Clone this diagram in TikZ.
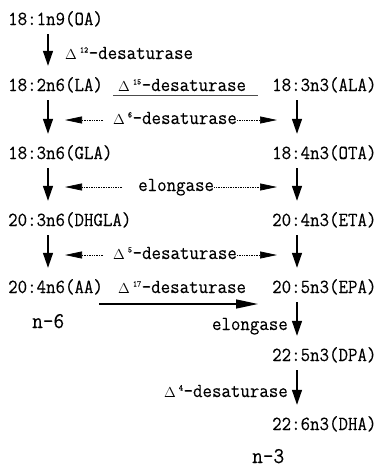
\documentclass[tikz,border=0pt]{standalone}
\usepackage{fontspec}
\newfontfamily\reffont[FakeStretch=0.92,FakeBold=0.2]{Latin Modern Mono}
\usetikzlibrary{arrows.meta,calc}
\newcommand{\enzd}[1]{{\fontsize{15}{15}\selectfont$\Delta$}\kern3pt\raisebox{6.5pt}{\fontsize{8.5}{8.5}\selectfont #1}\kern0.5pt\textendash desaturase}
\begin{document}
\begin{tikzpicture}[x=1pt,y=-1pt,
  lbl/.style={inner sep=0pt, anchor=base west, font=\reffont\fontsize{20}{22}\selectfont, text height=12pt, text depth=4pt},
  big/.style={lbl, font=\reffont\fontsize{22.5}{24}\selectfont},
  varr/.style={line width=1.4pt, -{Triangle[length=15pt,width=10pt]}, shorten <=5pt, shorten >=13pt},
  harr/.style={line width=1.4pt, -{Triangle[length=22pt,width=9pt]}},
  dotarr/.style={densely dotted, line width=0.7pt, -{Triangle[length=17pt,width=7pt]}},
  uline/.style={line width=1.3pt, draw=black!70}]
\useasboundingbox (0,0) rectangle (375,467);
\node[lbl] (oa) at (8,25) {18:1n9(OA)};
\node[lbl] (d12) at (65,59) {\enzd{12}};
\node[lbl] (la) at (8,91) {18:2n6(LA)};
\node[lbl] (d15) at (118,91) {\enzd{15}};
\node[lbl] (ala) at (272,91) {18:3n3(ALA)};
\node[lbl] (d6) at (113,124) {\enzd{6}};
\node[lbl] (gla) at (8,159) {18:3n6(GLA)};
\node[lbl] (ota) at (272,159) {18:4n3(OTA)};
\node[lbl] (elo1) at (138,191) {elongase};
\node[lbl] (dhgla) at (8,226) {20:3n6(DHGLA)};
\node[lbl] (eta) at (272,226) {20:4n3(ETA)};
\node[lbl] (d5) at (113,259) {\enzd{5}};
\node[lbl] (aa) at (8,293) {20:4n6(AA)};
\node[lbl] (d17) at (118,293) {\enzd{17}};
\node[lbl] (epa) at (272,293) {20:5n3(EPA)};
\node[big] (n6) at (32,328) {n\textendash 6};
\node[lbl,anchor=base east] (elo2) at (288,330) {elongase};
\node[lbl] (dpa) at (272,361) {22:5n3(DPA)};
\node[lbl,anchor=base east] (d4) at (288,397) {\enzd{4}};
\node[lbl] (dha) at (272,430) {22:6n3(DHA)};
\node[big] (n3) at (252,463) {n\textendash 3};
\coordinate (lx) at (48,0);
\coordinate (rx) at (297,0);
\coordinate (lt) at (65,0);
\coordinate (rt) at (277,0);
\coordinate (ly) at (0,304);
% left column
\draw[varr] (oa.south -| lx) -- (la.north -| lx);
\draw[varr] (la.south -| lx) -- (gla.north -| lx);
\draw[varr] (gla.south -| lx) -- (dhgla.north -| lx);
\draw[varr] (dhgla.south -| lx) -- (aa.north -| lx);
% right column
\draw[varr] (ala.south -| rx) -- (ota.north -| rx);
\draw[varr] (ota.south -| rx) -- (eta.north -| rx);
\draw[varr] (eta.south -| rx) -- (epa.north -| rx);
\draw[varr] (epa.south -| rx) -- (dpa.north -| rx);
\draw[varr] (dpa.south -| rx) -- (dha.north -| rx);
% dotted
\draw[dotarr, shorten <=10pt] (d6.west) -- (d6.west -| lt);
\draw[dotarr] (d6.east) -- (d6.east -| rt);
\draw[dotarr, shorten <=16pt] (elo1.west) -- (elo1.west -| lt);
\draw[dotarr] (elo1.east) -- (elo1.east -| rt);
\draw[dotarr, shorten <=10pt] (d5.west) -- (d5.west -| lt);
\draw[dotarr] (d5.east) -- (d5.east -| rt);
% underline and long arrow
\draw[uline] ([xshift=-5pt]d15.south west) -- ([xshift=12pt]d15.south east);
\draw[harr, shorten <=-4pt, shorten >=14pt] (aa.east |- ly) -- (epa.west |- ly);
\end{tikzpicture}
\end{document}
